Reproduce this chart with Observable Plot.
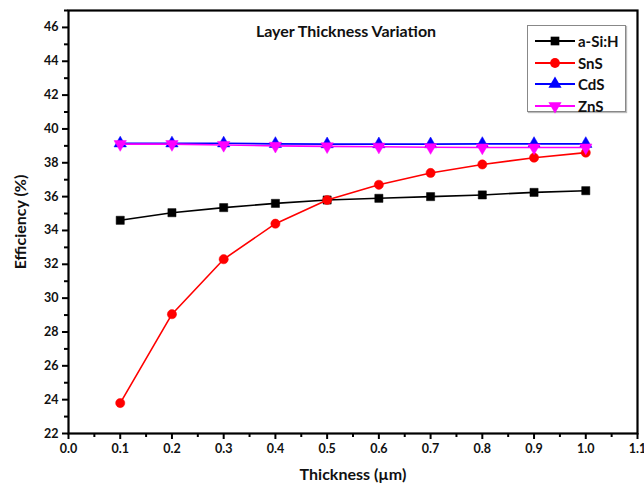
<!DOCTYPE html>
<html>
<head>
<meta charset="utf-8">
<script src="https://cdn.jsdelivr.net/npm/d3@7"></script>
<script src="https://cdn.jsdelivr.net/npm/@observablehq/plot@0.6"></script>
<style>
  html, body { margin: 0; padding: 0; background: #fff; }
  #chart { position: relative; width: 644px; height: 485px; font-family: Lato, "Open Sans", sans-serif; }
  #legend { position: absolute; left: 527px; top: 25px; width: 97px; height: 85px; border: 1px solid #888; box-shadow: 1px 1px 1px #bbb; background: #fff; }
  .item { position: absolute; left: 0; height: 20px; display: flex; align-items: center; font-weight: bold; font-size: 15px; color: #111; }
  .item svg { margin-left: 7px; margin-right: 3px; }
</style>
</head>
<body>
<div id="chart"><div id="legend"></div></div>
<script>
const thickness = [0.1, 0.2, 0.3, 0.4, 0.5, 0.6, 0.7, 0.8, 0.9, 1.0];
const aSiH = [34.6, 35.05, 35.35, 35.6, 35.8, 35.9, 36.0, 36.1, 36.25, 36.35];
const SnS  = [23.8, 29.05, 32.3, 34.4, 35.8, 36.7, 37.4, 37.9, 38.3, 38.6];
const CdS  = [39.15, 39.15, 39.15, 39.12, 39.1, 39.1, 39.1, 39.12, 39.12, 39.12];
const ZnS  = [39.1, 39.1, 39.05, 39.0, 38.97, 38.95, 38.92, 38.9, 38.9, 38.9];

const seriesNames = ["a-Si:H", "SnS", "CdS", "ZnS"];
const seriesValues = [aSiH, SnS, CdS, ZnS];
const seriesColors = ["#000000", "#ff0000", "#0000ff", "#ff00ff"];
const seriesSymbols = ["square", "circle", "triangle", "triangle"];
const seriesRotate = [0, 0, 0, 180];

const xMajorTicks = [0.0, 0.1, 0.2, 0.3, 0.4, 0.5, 0.6, 0.7, 0.8, 0.9, 1.0, 1.1];
const xMinorTicks = [0.05, 0.15, 0.25, 0.35, 0.45, 0.55, 0.65, 0.75, 0.85, 0.95, 1.05];
const yMajorTicks = [22, 24, 26, 28, 30, 32, 34, 36, 38, 40, 42, 44, 46];
const yMinorTicks = [23, 25, 27, 29, 31, 33, 35, 37, 39, 41, 43, 45, 47];

const chartTitle = "Layer Thickness Variation";
const xLabel = "Thickness (µm)";
const yLabel = "Efficiency (%)";

const table = [];
seriesNames.forEach((name, i) => {
  thickness.forEach((t, j) => table.push({series: name, idx: i, x: t, y: seriesValues[i][j]}));
});

const marks = [];
seriesNames.forEach((name, i) => {
  const d = table.filter(r => r.series === name);
  marks.push(Plot.line(d, {x: "x", y: "y", stroke: seriesColors[i], strokeWidth: 1.6}));
  marks.push(Plot.dot(d, {x: "x", y: "y", symbol: seriesSymbols[i], fill: seriesColors[i], stroke: seriesColors[i], strokeWidth: 0.5, r: 4.6, rotate: seriesRotate[i]}));
});

const plot = Plot.plot({
  width: 644,
  height: 485,
  marginLeft: 68,
  marginRight: 7,
  marginTop: 10,
  marginBottom: 52,
  style: {fontFamily: "Lato, 'Open Sans', sans-serif", fontSize: "12px", fontWeight: "bold", color: "#111", background: "#fff"},
  x: {domain: [0, 1.1]},
  y: {domain: [22, 47]},
  marks: [
    Plot.axisX({ticks: xMajorTicks, tickSize: 6, tickFormat: d3.format(".1f"), tickPadding: 5, stroke: "#000", strokeWidth: 2, label: xLabel, labelAnchor: "center", labelArrow: "none", labelOffset: 46, fontSize: 12.5, fontWeight: "bold", textAnchor: "middle"}),
    Plot.axisX({ticks: xMinorTicks, tickSize: 4, text: null, stroke: "#000", strokeWidth: 2, label: null}),
    Plot.axisY({ticks: yMajorTicks, tickSize: 6, tickPadding: 4, stroke: "#000", strokeWidth: 2, label: yLabel, labelAnchor: "center", labelArrow: "none", labelOffset: 54, fontSize: 12.5, fontWeight: "bold"}),
    Plot.axisY({ticks: yMinorTicks, tickSize: 4, text: null, stroke: "#000", strokeWidth: 2, label: null}),
    Plot.frame({stroke: "#000", strokeWidth: 2.2}),
    ...marks,
    Plot.text([chartTitle], {frameAnchor: "top", dy: 15, dx: -7, fontSize: 16, fontWeight: "bold", fill: "#111"})
  ]
});
plot.querySelectorAll("g[aria-label='x-axis label'] text, g[aria-label='y-axis label'] text").forEach(t => { t.style.fontSize = "16px"; t.style.fontWeight = "bold"; });
document.getElementById("chart").insertBefore(plot, document.getElementById("legend"));

const legend = document.getElementById("legend");
seriesNames.forEach((name, i) => {
  const item = document.createElement("div");
  item.className = "item";
  item.style.top = (5 + i * 21.5) + "px";
  const s = d3.create("svg").attr("width", 40).attr("height", 16);
  s.append("line").attr("x1", 0).attr("x2", 40).attr("y1", 8).attr("y2", 8).attr("stroke", seriesColors[i]).attr("stroke-width", 2);
  s.append("path").attr("d", d3.symbol(seriesSymbols[i] === "square" ? d3.symbolSquare : seriesSymbols[i] === "circle" ? d3.symbolCircle : d3.symbolTriangle, 75)())
    .attr("transform", `translate(20,8) rotate(${seriesRotate[i]})`).attr("fill", seriesColors[i]);
  item.appendChild(s.node());
  const span = document.createElement("span");
  span.textContent = name;
  item.appendChild(span);
  legend.appendChild(item);
});
</script>
</body>
</html>
